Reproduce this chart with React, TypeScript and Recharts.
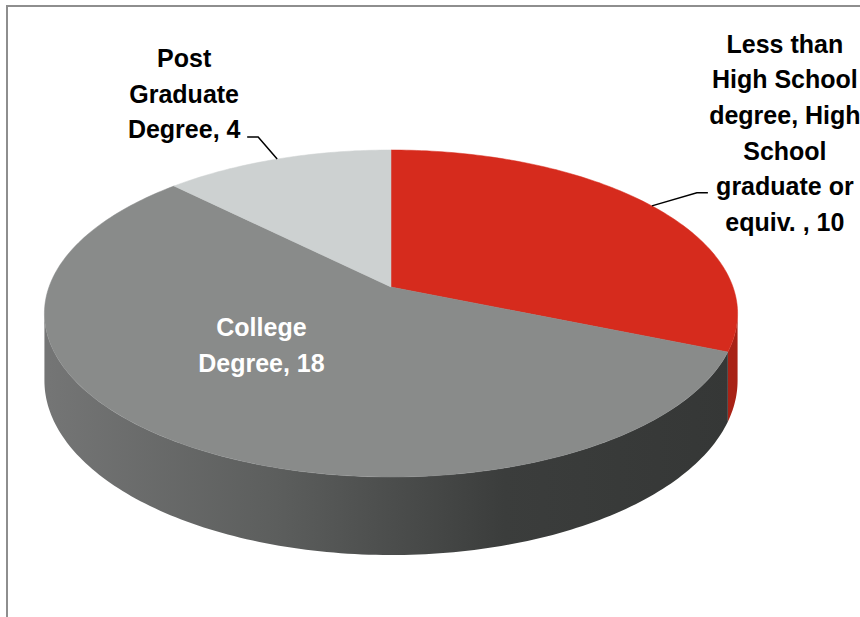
import React from "react";
import { PieChart, Pie, Cell } from "recharts";

const categories = [
  "Less than High School degree, High School graduate or equiv. ",
  "College Degree",
  "Post Graduate Degree",
];
const counts = [10, 18, 4];

const topColors = ["#d62b1d", "#898b8a", "#cdd1d1"];
const wallStops = [
  ["#7a1308", "#8e1a0e", "#a82216"],
  ["#747575", "#5c5e5d", "#3b3d3c", "#353736"],
  ["#9fa3a3", "#8c9090"],
];

const data = categories.map((name, i) => ({ name, value: counts[i] }));

// fake 3d: perspective-ish projection of the pie disc
const CX = 391;
const CY = 287;
const R = 342;
const TILT = 0.162;
const SQUASH = 0.4655;
const DEPTH = 65.4;
const EDGE = (Math.asin(TILT) * 180) / Math.PI;

const FONT = "'Liberation Sans', Arial, sans-serif";
const FS = 25;
const LINE_H = 35.6;

// where each label sits relative to the rim point at the slice's mid angle
const labelPlace = [
  { dx: 133, dy: -162, color: "#000", leader: [[45, -13], [56, -13]] },
  { dx: 90, dy: -113, color: "#fff", leader: null },
  { dx: -93, dy: -101, color: "#000", leader: [[-19, -22], [-30, -22]] },
];

function project(cx: number, cy: number, r: number, deg: number, f = 1) {
  const a = (deg * Math.PI) / 180;
  const un = Math.cos(a) * f;
  const vn = Math.sin(a) * f;
  const w = 1 + TILT * vn;
  return { x: cx + (r * un) / w, y: cy - (r * SQUASH * vn) / w, w };
}

function arcPoints(cx: number, cy: number, r: number, from: number, to: number) {
  const n = Math.max(2, Math.ceil(Math.abs(to - from)));
  const pts = [];
  for (let i = 0; i <= n; i++) pts.push(project(cx, cy, r, from + ((to - from) * i) / n));
  return pts;
}

function TopSlice(props: any) {
  const { cx, cy, outerRadius, startAngle, endAngle, fill } = props;
  const pts = arcPoints(cx, cy, outerRadius, startAngle, endAngle);
  const d = `M${cx},${cy} ` + pts.map((p) => `L${p.x.toFixed(2)},${p.y.toFixed(2)}`).join(" ") + " Z";
  return <path d={d} fill={fill} stroke={fill} strokeWidth={0.5} />;
}

function WallSlice(props: any) {
  const { cx, cy, outerRadius, startAngle, endAngle, index } = props;
  const lo = Math.max(Math.min(startAngle, endAngle), -180 + EDGE);
  const hi = Math.min(Math.max(startAngle, endAngle), -EDGE);
  if (lo >= hi) return <g />;
  const top = arcPoints(cx, cy, outerRadius, hi, lo);
  const bottom = top.slice().reverse().map((p) => ({ x: p.x, y: p.y + DEPTH / p.w }));
  const d =
    top.map((p, i) => `${i ? "L" : "M"}${p.x.toFixed(2)},${p.y.toFixed(2)}`).join(" ") +
    " " +
    bottom.map((p) => `L${p.x.toFixed(2)},${p.y.toFixed(2)}`).join(" ") +
    " Z";
  const stops = wallStops[index];
  const gid = `wall-${index}`;
  return (
    <g>
      <defs>
        <linearGradient id={gid} gradientUnits="userSpaceOnUse" x1={cx - outerRadius} y1={0} x2={cx + outerRadius} y2={0}>
          {stops.map((c, i) => (
            <stop key={i} offset={`${(i / (stops.length - 1)) * 100}%`} stopColor={c} />
          ))}
        </linearGradient>
      </defs>
      <path d={d} fill={`url(#${gid})`} />
    </g>
  );
}

function wrap(text: string, max = 12) {
  const words = text.split(/\s+/).filter(Boolean);
  const lines: string[] = [];
  let cur = "";
  for (const w of words) {
    if (!cur) cur = w;
    else if ((cur + " " + w).length <= max) cur += " " + w;
    else {
      lines.push(cur);
      cur = w;
    }
  }
  if (cur) lines.push(cur);
  return lines;
}

function SliceLabel(props: any) {
  const { cx, cy, outerRadius, midAngle, index } = props;
  const place = labelPlace[index];
  const rim = project(cx, cy, outerRadius, midAngle);
  const lines = wrap(`${categories[index]}, ${counts[index]}`);
  const tx = rim.x + place.dx;
  const ty = rim.y + place.dy;
  return (
    <g>
      {place.leader && (
        <polyline
          points={[[0, 0], ...place.leader].map(([x, y]) => `${rim.x + x},${rim.y + y}`).join(" ")}
          fill="none"
          stroke="#000"
          strokeWidth={1.5}
        />
      )}
      {lines.map((ln, i) => (
        <text
          key={i}
          x={tx}
          y={ty + i * LINE_H}
          textAnchor="middle"
          dominantBaseline="central"
          fill={place.color}
          fontFamily={FONT}
          fontSize={FS}
          fontWeight={700}
        >
          {ln}
        </text>
      ))}
    </g>
  );
}

export default function App() {
  return (
    <div style={{ position: "absolute", left: 0, top: 0, width: 860, height: 617, background: "#fff", overflow: "hidden" }}>
      <div
        style={{
          position: "absolute",
          left: 6,
          top: 5,
          width: 900,
          height: 700,
          borderTop: "2px solid #8e8e8e",
          borderLeft: "2px solid #8e8e8e",
        }}
      />
      <div style={{ position: "absolute", left: 0, top: 0 }}>
        <PieChart width={860} height={617} margin={{ top: 0, right: 0, bottom: 0, left: 0 }}>
          <Pie
            data={data}
            dataKey="value"
            nameKey="name"
            cx={CX}
            cy={CY}
            outerRadius={R}
            startAngle={90}
            endAngle={-270}
            stroke="none"
            shape={WallSlice}
            isAnimationActive={false}
          >
            {data.map((_, i) => (
              <Cell key={i} fill={topColors[i]} />
            ))}
          </Pie>
          <Pie
            data={data}
            dataKey="value"
            nameKey="name"
            cx={CX}
            cy={CY}
            outerRadius={R}
            startAngle={90}
            endAngle={-270}
            stroke="none"
            shape={TopSlice}
            label={SliceLabel}
            labelLine={false}
            isAnimationActive={false}
          >
            {data.map((_, i) => (
              <Cell key={i} fill={topColors[i]} />
            ))}
          </Pie>
        </PieChart>
      </div>
    </div>
  );
}
